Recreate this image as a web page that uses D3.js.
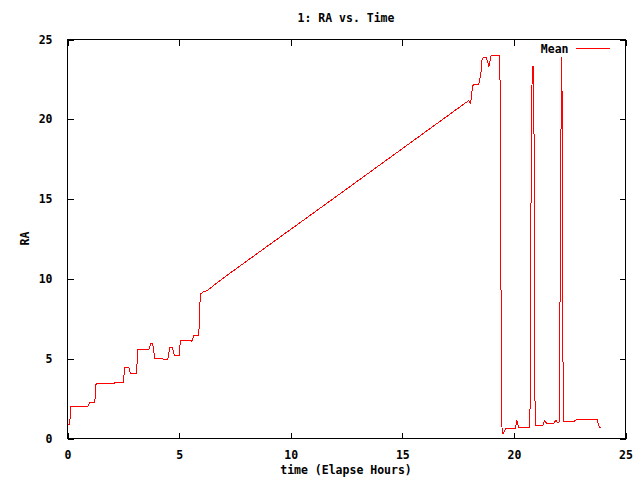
<!DOCTYPE html>
<html>
<head>
<meta charset="utf-8">
<script src="https://cdn.jsdelivr.net/npm/d3@7"></script>
<style>
  body { margin: 0; background: #fff; }
  svg { display: block; }
  text { font-family: "DejaVu Sans Mono", monospace; font-weight: bold; font-size: 11.5px; fill: #000; }
</style>
</head>
<body>
<svg width="640" height="480"></svg>
<script>
// tijd in uren en RA waarden
var hours = [0.0, 0.10, 0.12, 0.15, 0.91, 0.96, 1.0, 1.22, 1.28, 2.1, 2.12, 2.49, 2.57, 2.75, 2.82, 3.09,
    3.15, 3.64, 3.73, 3.82, 3.91, 4.27, 4.30, 4.49, 4.58, 4.69, 4.79, 5.0, 5.06, 5.54, 5.57, 5.66,
    5.88, 5.90, 5.93, 5.97, 6.07, 6.26, 6.78, 7.45, 11.93, 17.98, 18.06, 18.13, 18.18, 18.43, 18.52,
    18.57, 18.62, 18.77, 18.88, 18.98, 19.37, 19.40, 19.43, 19.47, 19.54, 19.63, 20.06, 20.13, 20.22,
    20.72, 20.73, 20.78, 20.82, 20.89, 20.92, 20.95, 21.29, 21.38, 21.46, 21.79, 21.88, 21.97, 22.03,
    22.06, 22.10, 22.15, 22.18, 22.21, 22.72, 22.81, 23.73, 23.80, 23.87];
var ra = [0.86, 0.86, 1.44, 2.0, 2.0, 2.13, 2.24, 2.24, 3.43, 3.43, 3.49, 3.49, 4.47, 4.47, 4.05, 4.05,
    5.56, 5.56, 5.93, 5.93, 4.99, 4.99, 4.93, 4.93, 5.72, 5.72, 5.2, 5.2, 6.14, 6.14, 6.08, 6.45,
    6.45, 7.1, 8.44, 9.07, 9.17, 9.27, 9.84, 10.53, 15.05, 21.18, 21.0, 21.85, 22.2, 22.2, 22.85,
    23.73, 23.85, 23.85, 23.31, 24.02, 24.02, 18.15, 6.25, 0.29, 0.35, 0.6, 0.6, 1.13, 0.67,
    0.67, 6.35, 17.62, 23.31, 23.31, 12.03, 0.81, 0.81, 1.13, 0.96, 0.96, 1.13, 0.98, 1.05,
    6.77, 18.15, 23.89, 12.51, 1.09, 1.09, 1.21, 1.21, 0.81, 0.67];
var xTicks = [0, 5, 10, 15, 20, 25];
var yTicks = [0, 5, 10, 15, 20, 25];

var data = hours.map(function (h, i) { return { t: h, v: ra[i] }; });

var svg = d3.select("svg"),
    margin = { top: 39, right: 15, bottom: 42, left: 67 },
    width = +svg.attr("width") - margin.left - margin.right,
    height = +svg.attr("height") - margin.top - margin.bottom;

var x = d3.scaleLinear().domain([0, 25]).range([0, width]),
    y = d3.scaleLinear().domain([0, 25]).range([height, 0]);

var g = svg.append("g")
    .attr("transform", "translate(" + (margin.left + 0.5) + "," + (margin.top + 0.5) + ")");

// assen met ticks naar binnen, aan alle vier de kanten (gnuplot stijl)
function style(sel) {
    sel.select(".domain").remove();
    sel.selectAll("line").attr("stroke", "#000").attr("shape-rendering", "crispEdges");
    sel.selectAll("text").attr("font-family", null).attr("font-size", null);
}

g.append("g")
    .attr("transform", "translate(0," + height + ")")
    .call(d3.axisBottom(x).tickValues(xTicks).tickSizeInner(-6).tickSizeOuter(0).tickPadding(12))
    .call(style);
g.append("g")
    .call(d3.axisTop(x).tickValues(xTicks).tickSizeInner(-6).tickSizeOuter(0).tickFormat(""))
    .call(style);
g.append("g")
    .call(d3.axisLeft(y).tickValues(yTicks).tickSizeInner(-6).tickSizeOuter(0).tickPadding(15))
    .call(style);
g.append("g")
    .attr("transform", "translate(" + width + ",0)")
    .call(d3.axisRight(y).tickValues(yTicks).tickSizeInner(-6).tickSizeOuter(0).tickFormat(""))
    .call(style);

g.append("rect")
    .attr("width", width)
    .attr("height", height)
    .attr("fill", "none")
    .attr("stroke", "#000")
    .attr("shape-rendering", "crispEdges");

// de lijn, zonder anti-aliasing zoals in gnuplot
var line = d3.line()
    .x(function (d) { return x(d.t); })
    .y(function (d) { return y(d.v); });

g.append("path")
    .datum(data)
    .attr("fill", "none")
    .attr("stroke", "#ff0000")
    .attr("stroke-width", 1)
    .attr("shape-rendering", "crispEdges")
    .attr("d", line);

// legenda
g.append("text")
    .attr("x", width - 57)
    .attr("y", 13)
    .attr("text-anchor", "end")
    .text("Mean");
g.append("line")
    .attr("x1", width - 50)
    .attr("x2", width - 16)
    .attr("y1", 9)
    .attr("y2", 9)
    .attr("stroke", "#ff0000")
    .attr("shape-rendering", "crispEdges");

// titels
svg.append("text")
    .attr("x", margin.left + width / 2)
    .attr("y", 22)
    .attr("text-anchor", "middle")
    .text("1: RA vs. Time");

svg.append("text")
    .attr("x", margin.left + width / 2)
    .attr("y", 474)
    .attr("text-anchor", "middle")
    .text("time (Elapse Hours)");

svg.append("text")
    .attr("transform", "translate(29," + (margin.top + height / 2) + ") rotate(-90)")
    .attr("text-anchor", "middle")
    .text("RA");
</script>
</body>
</html>
